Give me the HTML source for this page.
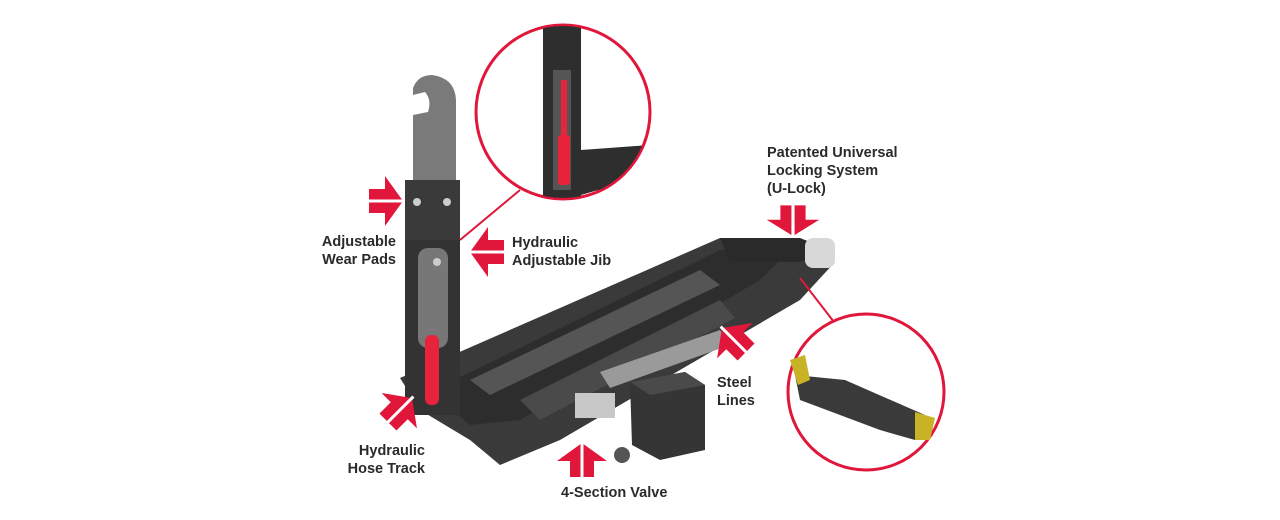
<!DOCTYPE html>
<html><head><meta charset="utf-8"><style>
html,body{margin:0;padding:0;background:#fff;}
svg{display:block}
text{font-family:"Liberation Sans",sans-serif;font-weight:bold;font-size:14.5px;fill:#2a2a2a}
</style></head><body>
<svg width="1280" height="520" viewBox="0 0 1280 520" xmlns="http://www.w3.org/2000/svg">
<defs>
<g id="arr">
<polygon points="0,0 -18,-25 -18,-12 -34,-12 -34,12 -18,12 -18,25" fill="#e0173a"/>
<rect x="-36" y="-1.5" width="38" height="3" fill="#fff"/>
</g>
</defs>

<!-- main frame -->
<polygon points="400,378 720,238 800,238 835,262 800,300 560,440 500,465 470,440 420,410" fill="#3a3a3a"/>
<polygon points="430,392 720,250 790,250 760,280 520,420 470,425" fill="#2d2d2d"/>
<polygon points="470,380 700,270 720,285 490,395" fill="#555"/>
<polygon points="520,400 720,300 735,318 540,420" fill="#4a4a4a"/>
<polygon points="600,372 720,330 730,345 610,388" fill="#9a9a9a"/>
<polygon points="720,238 800,238 830,250 800,262 730,262" fill="#2a2a2a"/>
<rect x="805" y="238" width="30" height="30" rx="8" fill="#d8d8d8"/>
<!-- tank -->
<polygon points="630,382 685,372 705,385 705,450 660,460 632,445" fill="#353535"/>
<polygon points="630,382 685,372 705,385 650,395" fill="#4a4a4a"/>
<circle cx="622" cy="455" r="8" fill="#555"/>
<!-- valve -->
<rect x="575" y="393" width="40" height="25" fill="#c8c8c8"/>
<!-- arm -->
<path d="M413,180 L413,88 Q418,75 432,75 Q455,78 456,100 L456,180 Z" fill="#7a7a7a"/>
<path d="M413,115 L428,112 Q432,100 425,92 L413,95 Z" fill="#fff"/>
<rect x="405" y="180" width="55" height="60" fill="#3a3a3a"/>
<rect x="405" y="240" width="55" height="175" fill="#333"/>
<rect x="418" y="248" width="30" height="100" rx="10" fill="#777"/>
<rect x="425" y="335" width="14" height="70" rx="6" fill="#e8243c"/>
<circle cx="417" cy="202" r="4" fill="#ccc"/><circle cx="447" cy="202" r="4" fill="#ccc"/>
<circle cx="437" cy="262" r="4" fill="#ccc"/>

<!-- top circle -->
<line x1="520" y1="190" x2="460" y2="240" stroke="#e0173a" stroke-width="2"/>
<circle cx="563" cy="112" r="87" fill="#fff" stroke="#e0173a" stroke-width="3"/>
<clipPath id="c1"><circle cx="563" cy="112" r="86"/></clipPath>
<g clip-path="url(#c1)">
<rect x="543" y="20" width="38" height="185" fill="#2e2e2e"/>
<rect x="553" y="70" width="18" height="120" fill="#555"/>
<rect x="561" y="80" width="6" height="60" fill="#e8243c"/>
<rect x="558" y="135" width="12" height="50" rx="3" fill="#e8243c"/>
<polygon points="581,150 650,145 650,175 581,195" fill="#2e2e2e"/>
</g>

<!-- right circle -->
<line x1="800" y1="278" x2="834" y2="322" stroke="#e0173a" stroke-width="2"/>
<circle cx="866" cy="392" r="78" fill="#fff" stroke="#e0173a" stroke-width="3"/>
<polygon points="795,375 845,380 925,415 915,440 880,430 800,400" fill="#3a3a3a"/>
<polygon points="790,360 805,355 810,380 798,385" fill="#c8b226"/>
<polygon points="915,412 935,418 930,440 915,440" fill="#c8b226"/>

<!-- arrows -->
<use href="#arr" transform="translate(403,201)"/>
<use href="#arr" transform="translate(470,252) rotate(180)"/>
<use href="#arr" transform="translate(793,236) rotate(90) scale(0.9,1.05)"/>
<use href="#arr" transform="translate(722,328) rotate(-135)"/>
<use href="#arr" transform="translate(412,398) rotate(-45)"/>
<use href="#arr" transform="translate(582,443) rotate(-90)"/>

<!-- labels -->
<text x="767" y="157">Patented Universal</text>
<text x="767" y="175">Locking System</text>
<text x="767" y="193">(U-Lock)</text>
<text x="396" y="246" text-anchor="end">Adjustable</text>
<text x="396" y="264" text-anchor="end">Wear Pads</text>
<text x="512" y="247">Hydraulic</text>
<text x="512" y="265">Adjustable Jib</text>
<text x="717" y="387">Steel</text>
<text x="717" y="405">Lines</text>
<text x="425" y="455" text-anchor="end">Hydraulic</text>
<text x="425" y="473" text-anchor="end">Hose Track</text>
<text x="561" y="497">4-Section Valve</text>
</svg>
</body></html>
